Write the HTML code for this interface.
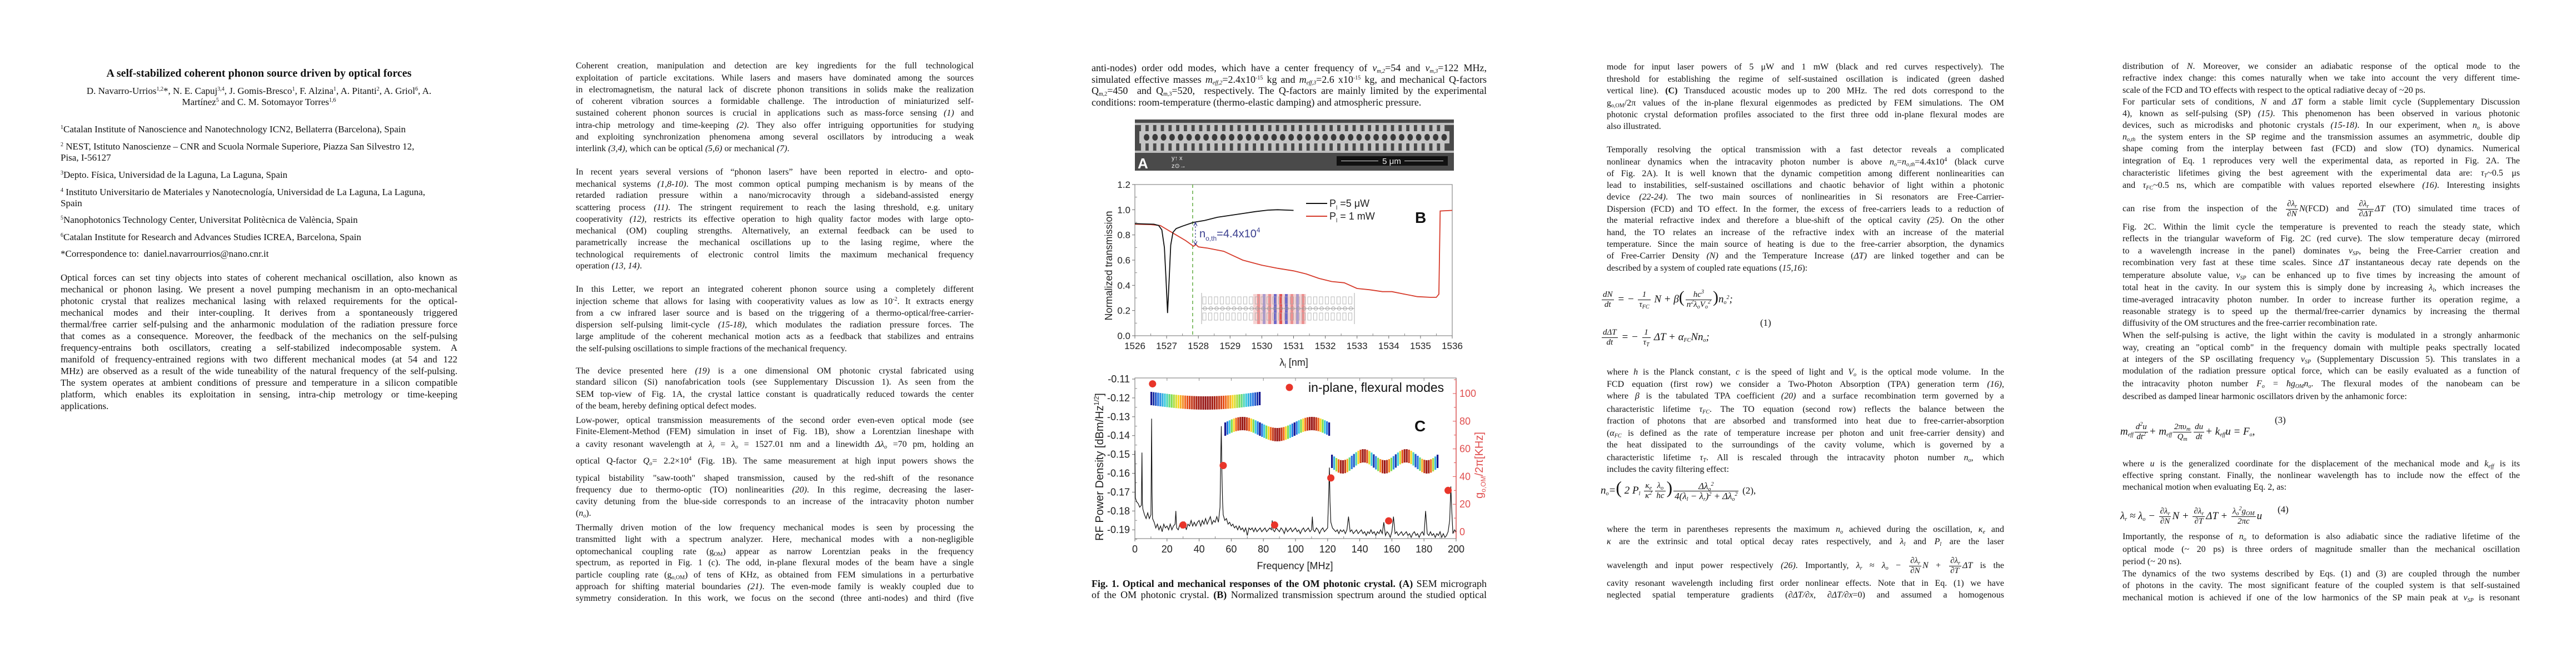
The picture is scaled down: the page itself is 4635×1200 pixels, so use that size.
<!DOCTYPE html>
<html><head><meta charset="utf-8">
<style>
html,body{margin:0;padding:0;background:#fff;}
body{width:4635px;height:1200px;position:relative;overflow:hidden;font-family:"Liberation Serif",serif;color:#111;}
.col{position:absolute;left:0;top:0;}
.l{position:absolute;white-space:nowrap;font-size:16px;line-height:20px;height:20px;}
.j{text-align:justify;text-align-last:justify;}
.c1{left:109px;width:714px;font-size:17px;}
.c2{left:1036px;width:716px;}
.c3{left:1964px;width:711px;font-size:18px;}
.c4{left:2891px;width:715px;}
.c5{left:3819px;width:715px;}
sup{font-size:10px;line-height:0;vertical-align:6px;}
sub{font-size:10px;line-height:0;vertical-align:-3px;}
i{font-style:italic;}
.fr{display:inline-block;vertical-align:middle;text-align:center;line-height:17px;font-size:15px;margin:0 2px;}
.fr>span{display:block;padding:0 2px;}
.fr>span:first-child{border-bottom:1px solid #111;}
.eq{position:absolute;white-space:nowrap;font-size:19px;font-style:italic;line-height:22px;}
svg text{font-family:"Liberation Sans",sans-serif;}
</style></head>
<body>

<!-- COLUMN 1 -->
<div class="col">
<div class="l c1" style="top:120px;text-align:center;font-weight:bold;font-size:20px;height:24px;line-height:24px;">A self-stabilized coherent phonon source driven by optical forces</div>
<div class="l c1" style="top:154px;text-align:center;">D. Navarro-Urrios<sup>1,2</sup>*, N. E. Capuj<sup>3,4</sup>, J. Gomis-Bresco<sup>1</sup>, F. Alzina<sup>1</sup>, A. Pitanti<sup>2</sup>, A. Griol<sup>6</sup>, A.</div>
<div class="l c1" style="top:174px;text-align:center;">Martínez<sup>5</sup> and C. M. Sotomayor Torres<sup>1,6</sup></div>
<div class="l c1" style="top:223px;"><sup>1</sup>Catalan Institute of Nanoscience and Nanotechnology ICN2, Bellaterra (Barcelona), Spain</div>
<div class="l c1" style="top:254px;"><sup>2</sup> NEST, Istituto Nanoscienze – CNR and Scuola Normale Superiore, Piazza San Silvestro 12,</div>
<div class="l c1" style="top:274px;">Pisa, I-56127</div>
<div class="l c1" style="top:305px;"><sup>3</sup>Depto. Física, Universidad de la Laguna, La Laguna, Spain</div>
<div class="l c1" style="top:336px;"><sup>4</sup> Instituto Universitario de Materiales y Nanotecnología, Universidad de La Laguna, La Laguna,</div>
<div class="l c1" style="top:356px;">Spain</div>
<div class="l c1" style="top:386px;"><sup>5</sup>Nanophotonics Technology Center, Universitat Politècnica de València, Spain</div>
<div class="l c1" style="top:417px;"><sup>6</sup>Catalan Institute for Research and Advances Studies ICREA, Barcelona, Spain</div>
<div class="l c1" style="top:447px;">*Correspondence to:&nbsp; daniel.navarrourrios@nano.cnr.it</div>
<div class="l c1 j" style="top:490px;">Optical forces can set tiny objects into states of coherent mechanical oscillation, also known as</div>
<div class="l c1 j" style="top:511px;">mechanical or phonon lasing. We present a novel pumping mechanism in an opto-mechanical</div>
<div class="l c1 j" style="top:532px;">photonic crystal that realizes mechanical lasing with relaxed requirements for the optical-</div>
<div class="l c1 j" style="top:553px;">mechanical modes and their inter-coupling. It derives from a spontaneously triggered</div>
<div class="l c1 j" style="top:574px;">thermal/free carrier self-pulsing and the anharmonic modulation of the radiation pressure force</div>
<div class="l c1 j" style="top:595px;">that comes as a consequence. Moreover, the feedback of the mechanics on the self-pulsing</div>
<div class="l c1 j" style="top:616px;">frequency-entrains both oscillators, creating a self-stabilized indecomposable system. A</div>
<div class="l c1 j" style="top:637px;">manifold of frequency-entrained regions with two different mechanical modes (at 54 and 122</div>
<div class="l c1 j" style="top:658px;">MHz) are observed as a result of the wide tuneability of the natural frequency of the self-pulsing.</div>
<div class="l c1 j" style="top:679px;">The system operates at ambient conditions of pressure and temperature in a silicon compatible</div>
<div class="l c1 j" style="top:700px;">platform, which enables its exploitation in sensing, intra-chip metrology or time-keeping</div>
<div class="l c1" style="top:721px;">applications.</div>
</div>

<!-- COLUMN 2 -->
<div class="col">
<div class="l c2 j" style="top:109px;">Coherent creation, manipulation and detection are key ingredients for the full technological</div>
<div class="l c2 j" style="top:131px;">exploitation of particle excitations. While lasers and masers have dominated among the sources</div>
<div class="l c2 j" style="top:152px;">in electromagnetism, the natural lack of discrete phonon transitions in solids make the realization</div>
<div class="l c2 j" style="top:173px;">of coherent vibration sources a formidable challenge. The introduction of miniaturized self-</div>
<div class="l c2 j" style="top:194px;">sustained coherent phonon sources is crucial in applications such as mass-force sensing <i>(1)</i> and</div>
<div class="l c2 j" style="top:216px;">intra-chip metrology and time-keeping <i>(2)</i>. They also offer intriguing opportunities for studying</div>
<div class="l c2 j" style="top:237px;">and exploiting synchronization phenomena among several oscillators by introducing a weak</div>
<div class="l c2" style="top:258px;">interlink <i>(3,4)</i>, which can be optical <i>(5,6)</i> or mechanical <i>(7)</i>.</div>
<div class="l c2 j" style="top:300px;">In recent years several versions of “phonon lasers” have been reported in electro- and opto-</div>
<div class="l c2 j" style="top:322px;">mechanical systems <i>(1,8-10)</i>. The most common optical pumping mechanism is by means of the</div>
<div class="l c2 j" style="top:342px;">retarded radiation pressure within a nano/microcavity through a sideband-assisted energy</div>
<div class="l c2 j" style="top:364px;">scattering process <i>(11)</i>. The stringent requirement to reach the lasing threshold, e.g. unitary</div>
<div class="l c2 j" style="top:385px;">cooperativity <i>(12)</i>, restricts its effective operation to high quality factor modes with large opto-</div>
<div class="l c2 j" style="top:406px;">mechanical (OM) coupling strengths. Alternatively, an external feedback can be used to</div>
<div class="l c2 j" style="top:427px;">parametrically increase the mechanical oscillations up to the lasing regime, where the</div>
<div class="l c2 j" style="top:449px;">technological requirements of electronic control limits the maximum mechanical frequency</div>
<div class="l c2" style="top:469px;">operation <i>(13, 14)</i>.</div>
<div class="l c2 j" style="top:511px;">In this Letter, we report an integrated coherent phonon source using a completely different</div>
<div class="l c2 j" style="top:533px;">injection scheme that allows for lasing with cooperativity values as low as 10<sup>-2</sup>. It extracts energy</div>
<div class="l c2 j" style="top:554px;">from a cw infrared laser source and is based on the triggering of a thermo-optical/free-carrier-</div>
<div class="l c2 j" style="top:575px;">dispersion self-pulsing limit-cycle <i>(15-18)</i>, which modulates the radiation pressure forces. The</div>
<div class="l c2 j" style="top:596px;">large amplitude of the coherent mechanical motion acts as a feedback that stabilizes and entrains</div>
<div class="l c2" style="top:618px;">the self-pulsing oscillations to simple fractions of the mechanical frequency.</div>
<div class="l c2 j" style="top:658px;">The device presented here <i>(19)</i> is a one dimensional OM photonic crystal fabricated using</div>
<div class="l c2 j" style="top:678px;">standard silicon (Si) nanofabrication tools (see Supplementary Discussion 1). As seen from the</div>
<div class="l c2 j" style="top:700px;">SEM top-view of Fig. 1A, the crystal lattice constant is quadratically reduced towards the center</div>
<div class="l c2" style="top:721px;">of the beam, hereby defining optical defect modes.</div>
<div class="l c2 j" style="top:747px;">Low-power, optical transmission measurements of the second order even-even optical mode (see</div>
<div class="l c2 j" style="top:767px;">Finite-Element-Method (FEM) simulation in inset of Fig. 1B), show a Lorentzian lineshape with</div>
<div class="l c2 j" style="top:790px;">a cavity resonant wavelength at <i>λ<sub>r</sub></i> = <i>λ<sub>o</sub></i> = 1527.01 nm and a linewidth <i>Δλ<sub>o</sub></i> =70 pm, holding an</div>
<div class="l c2 j" style="top:820px;">optical Q-factor <i>Q<sub>o</sub></i>= 2.2×10<sup>4</sup> (Fig. 1B). The same measurement at high input powers shows the</div>
<div class="l c2 j" style="top:851px;">typical bistability "saw-tooth" shaped transmission, caused by the red-shift of the resonance</div>
<div class="l c2 j" style="top:872px;">frequency due to thermo-optic (TO) nonlinearities <i>(20)</i>. In this regime, decreasing the laser-</div>
<div class="l c2 j" style="top:893px;">cavity detuning from the blue-side corresponds to an increase of the intracavity photon number</div>
<div class="l c2" style="top:914px;">(<i>n<sub>o</sub></i>).</div>
<div class="l c2 j" style="top:940px;">Thermally driven motion of the low frequency mechanical modes is seen by processing the</div>
<div class="l c2 j" style="top:961px;">transmitted light with a spectrum analyzer. Here, mechanical modes with a non-negligible</div>
<div class="l c2 j" style="top:983px;">optomechanical coupling rate (g<sub>OM</sub>) appear as narrow Lorentzian peaks in the frequency</div>
<div class="l c2 j" style="top:1003px;">spectrum, as reported in Fig. 1 (c). The odd, in-plane flexural modes of the beam have a single</div>
<div class="l c2 j" style="top:1025px;">particle coupling rate (g<sub>o,OM</sub>) of tens of KHz, as obtained from FEM simulations in a perturbative</div>
<div class="l c2 j" style="top:1046px;">approach for shifting material boundaries <i>(21)</i>. The even-mode family is weakly coupled due to</div>
<div class="l c2 j" style="top:1067px;">symmetry consideration. In this work, we focus on the second (three anti-nodes) and third (five</div>
</div>

<!-- COLUMN 3 (figure column) -->
<div class="col">
<div class="l c3 j" style="top:112px;">anti-nodes) order odd modes, which have a center frequency of <i>ν<sub>m,2</sub></i>=54 and <i>ν<sub>m,3</sub></i>=122 MHz,</div>
<div class="l c3 j" style="top:133px;">simulated effective masses <i>m<sub>eff,2</sub></i>=2.4x10<sup>-15</sup> kg and <i>m<sub>eff,3</sub></i>=2.6 x10<sup>-15</sup> kg, and mechanical Q-factors</div>
<div class="l c3 j" style="top:153px;">Q<sub>m,2</sub>=450&nbsp; and Q<sub>m,3</sub>=520,&nbsp; respectively. The Q-factors are mainly limited by the experimental</div>
<div class="l c3" style="top:174px;">conditions: room-temperature (thermo-elastic damping) and atmospheric pressure.</div>
<div class="l c3 j" style="top:1040px;"><b>Fig. 1. Optical and mechanical responses of the OM photonic crystal. (A)</b> SEM micrograph</div>
<div class="l c3 j" style="top:1060px;">of the OM photonic crystal. <b>(B)</b> Normalized transmission spectrum around the studied optical</div>
</div>

<!-- COLUMN 4 -->
<div class="col">
<div class="l c4 j" style="top:111px;">mode for input laser powers of 5 μW and 1 mW (black and red curves respectively). The</div>
<div class="l c4 j" style="top:133px;">threshold for establishing the regime of self-sustained oscillation is indicated (green dashed</div>
<div class="l c4 j" style="top:154px;">vertical line). <b>(C)</b> Transduced acoustic modes up to 200 MHz. The red dots correspond to the</div>
<div class="l c4 j" style="top:176px;">g<sub>o,OM</sub>/2π values of the in-plane flexural eigenmodes as predicted by FEM simulations. The OM</div>
<div class="l c4 j" style="top:197px;">photonic crystal deformation profiles associated to the first three odd in-plane flexural modes are</div>
<div class="l c4" style="top:218px;">also illustrated.</div>
<div class="l c4 j" style="top:260px;">Temporally resolving the optical transmission with a fast detector reveals a complicated</div>
<div class="l c4 j" style="top:282px;">nonlinear dynamics when the intracavity photon number is above <i>n<sub>o</sub></i>=<i>n<sub>o,th</sub></i>=4.4x10<sup>4</sup> (black curve</div>
<div class="l c4 j" style="top:303px;">of Fig. 2A). It is well known that the dynamic competition among different nonlinearities can</div>
<div class="l c4 j" style="top:324px;">lead to instabilities, self-sustained oscillations and chaotic behavior of light within a photonic</div>
<div class="l c4 j" style="top:345px;">device <i>(22-24)</i>. The two main sources of nonlinearities in Si resonators are Free-Carrier-</div>
<div class="l c4 j" style="top:367px;">Dispersion (FCD) and TO effect. In the former, the excess of free-carriers leads to a reduction of</div>
<div class="l c4 j" style="top:387px;">the material refractive index and therefore a blue-shift of the optical cavity <i>(25)</i>. On the other</div>
<div class="l c4 j" style="top:409px;">hand, the TO relates an increase of the refractive index with an increase of the material</div>
<div class="l c4 j" style="top:430px;">temperature. Since the main source of heating is due to the free-carrier absorption, the dynamics</div>
<div class="l c4 j" style="top:451px;">of Free-Carrier Density <i>(N)</i> and the Temperature Increase (<i>ΔT)</i> are linked together and can be</div>
<div class="l c4" style="top:473px;">described by a system of coupled rate equations (<i>15,16</i>):</div>

<div class="eq" style="left:2880px;top:522px;"><span class="fr"><span>dN</span><span>dt</span></span> = − <span class="fr"><span>1</span><span>τ<sub>FC</sub></span></span> N + β<span style="font-size:30px;font-style:normal;">(</span><span class="fr"><span>hc<sup>3</sup></span><span>n<sup>2</sup>λ<sub>o</sub>V<sub>o</sub><sup>2</sup></span></span><span style="font-size:30px;font-style:normal;">)</span>n<sub>o</sub><sup>2</sup>;</div>
<div class="eq" style="left:2880px;top:590px;"><span class="fr"><span>dΔT</span><span>dt</span></span> = − <span class="fr"><span>1</span><span>τ<sub>T</sub></span></span> ΔT + α<sub>FC</sub>Nn<sub>o</sub>;</div>
<div class="eq" style="left:3167px;top:570px;font-style:normal;font-size:17px;">(1)</div>

<div class="l c4 j" style="top:660px;">where <i>h</i> is the Planck constant, <i>c</i> is the speed of light and <i>V<sub>o</sub></i> is the optical mode volume.&nbsp; In the</div>
<div class="l c4 j" style="top:682px;">FCD equation (first row) we consider a Two-Photon Absorption (TPA) generation term <i>(16)</i>,</div>
<div class="l c4 j" style="top:703px;">where <i>β</i> is the tabulated TPA coefficient <i>(20)</i> and a surface recombination term governed by a</div>
<div class="l c4 j" style="top:727px;">characteristic lifetime <i>τ<sub>FC</sub></i>. The TO equation (second row) reflects the balance between the</div>
<div class="l c4 j" style="top:748px;">fraction of photons that are absorbed and transformed into heat due to free-carrier-absorption</div>
<div class="l c4 j" style="top:770px;">(<i>α<sub>FC</sub></i> is defined as the rate of temperature increase per photon and unit free-carrier density) and</div>
<div class="l c4 j" style="top:791px;">the heat dissipated to the surroundings of the cavity volume, which is governed by a</div>
<div class="l c4 j" style="top:814px;">characteristic lifetime <i>τ<sub>T</sub></i>. All is rescaled through the intracavity photon number <i>n<sub>o</sub></i>, which</div>
<div class="l c4" style="top:835px;">includes the cavity filtering effect:</div>

<div class="eq" style="left:2880px;top:866px;">n<sub>o</sub>=<span style="font-size:32px;font-style:normal;">(</span> 2 P<sub>l</sub> <span class="fr"><span>κ<sub>e</sub></span><span>κ<sup>2</sup></span></span><span class="fr"><span>λ<sub>o</sub></span><span>hc</span></span><span style="font-size:32px;font-style:normal;">)</span><span class="fr" style="font-size:17px;"><span>Δλ<sub>o</sub><sup>2</sup></span><span>4(λ<sub>l</sub> − λ<sub>r</sub>)<sup>2</sup> + Δλ<sub>o</sub><sup>2</sup></span></span> <span style="font-style:normal;font-size:17px;">(2),</span></div>

<div class="l c4 j" style="top:943px;">where the term in parentheses represents the maximum <i>n<sub>o</sub></i> achieved during the oscillation, <i>κ<sub>e</sub></i> and</div>
<div class="l c4 j" style="top:965px;"><i>κ</i> are the extrinsic and total optical decay rates respectively, and <i>λ<sub>l</sub></i> and <i>P<sub>l</sub></i> are the laser</div>
<div class="l c4 j" style="top:1001px;">wavelength and input power respectively <i>(26)</i>. Importantly, <i>λ<sub>r</sub></i> ≈ <i>λ<sub>o</sub></i> − <span class="fr"><span><i>∂λ<sub>r</sub></i></span><span><i>∂N</i></span></span><i>N</i> + <span class="fr"><span><i>∂λ<sub>r</sub></i></span><span><i>∂T</i></span></span><i>ΔT</i> is the</div>
<div class="l c4 j" style="top:1040px;">cavity resonant wavelength including first order nonlinear effects. Note that in Eq. (1) we have</div>
<div class="l c4 j" style="top:1061px;">neglected spatial temperature gradients (<i>∂ΔT/∂x</i>, <i>∂ΔT/∂x</i>=0) and assumed a homogenous</div>
</div>

<!-- COLUMN 5 -->
<div class="col">
<div class="l c5 j" style="top:110px;">distribution of <i>N</i>. Moreover, we consider an adiabatic response of the optical mode to the</div>
<div class="l c5 j" style="top:131px;">refractive index change: this comes naturally when we take into account the very different time-</div>
<div class="l c5" style="top:153px;">scale of the FCD and TO effects with respect to the optical radiative decay of ~20 ps.</div>
<div class="l c5 j" style="top:174px;">For particular sets of conditions, <i>N</i> and <i>ΔT</i> form a stable limit cycle (Supplementary Discussion</div>
<div class="l c5 j" style="top:195px;">4), known as self-pulsing (SP) <i>(15)</i>. This phenomenon has been observed in various photonic</div>
<div class="l c5 j" style="top:216px;">devices, such as microdisks and photonic crystals <i>(15-18)</i>. In our experiment, when <i>n<sub>o</sub></i> is above</div>
<div class="l c5 j" style="top:237px;"><i>n<sub>o,th</sub></i> the system enters in the SP regime and the transmission assumes an asymmetric, double dip</div>
<div class="l c5 j" style="top:258px;">shape coming from the interplay between fast (FCD) and slow (TO) dynamics. Numerical</div>
<div class="l c5 j" style="top:280px;">integration of Eq. 1 reproduces very well the experimental data, as reported in Fig. 2A. The</div>
<div class="l c5 j" style="top:302px;">characteristic lifetimes giving the best agreement with the experimental data are: <i>τ<sub>T</sub></i>~0.5 μs</div>
<div class="l c5 j" style="top:324px;">and <i>τ<sub>FC</sub></i>~0.5 ns, which are compatible with values reported elsewhere <i>(16)</i>. Interesting insights</div>
<div class="l c5 j" style="top:359px;">can rise from the inspection of the <span class="fr"><span><i>∂λ<sub>r</sub></i></span><span><i>∂N</i></span></span><i>N</i>(FCD) and <span class="fr"><span><i>∂λ<sub>r</sub></i></span><span><i>∂ΔT</i></span></span><i>ΔT</i> (TO) simulated time traces of</div>
<div class="l c5 j" style="top:399px;">Fig. 2C. Within the limit cycle the temperature is prevented to reach the steady state, which</div>
<div class="l c5 j" style="top:420px;">reflects in the triangular waveform of Fig. 2C (red curve). The slow temperature decay (mirrored</div>
<div class="l c5 j" style="top:442px;">to a wavelength increase in the panel) dominates <i>ν<sub>SP</sub></i>, being the Free-Carrier creation and</div>
<div class="l c5 j" style="top:463px;">recombination very fast at these time scales. Since <i>ΔT</i> instantaneous decay rate depends on the</div>
<div class="l c5 j" style="top:486px;">temperature absolute value, <i>ν<sub>SP</sub></i> can be enhanced up to five times by increasing the amount of</div>
<div class="l c5 j" style="top:508px;">total heat in the cavity. In our system this is simply done by increasing <i>λ<sub>l</sub></i>, which increases the</div>
<div class="l c5 j" style="top:530px;">time-averaged intracavity photon number. In order to increase further its operation regime, a</div>
<div class="l c5 j" style="top:551px;">reasonable strategy is to speed up the thermal/free-carrier dynamics by increasing the thermal</div>
<div class="l c5" style="top:572px;">diffusivity of the OM structures and the free-carrier recombination rate.</div>
<div class="l c5 j" style="top:594px;">When the self-pulsing is active, the light within the cavity is modulated in a strongly anharmonic</div>
<div class="l c5 j" style="top:616px;">way, creating an "optical comb" in the frequency domain with multiple peaks spectrally located</div>
<div class="l c5 j" style="top:637px;">at integers of the SP oscillating frequency <i>ν<sub>SP</sub></i> (Supplementary Discussion 5). This translates in a</div>
<div class="l c5 j" style="top:658px;">modulation of the radiation pressure optical force, which can be easily evaluated as a function of</div>
<div class="l c5 j" style="top:681px;">the intracavity photon number <i>F<sub>o</sub></i> = <i>ħg<sub>OM</sub>n<sub>o</sub></i>. The flexural modes of the nanobeam can be</div>
<div class="l c5" style="top:704px;">described as damped linear harmonic oscillators driven by the anhamonic force:</div>

<div class="eq" style="left:3815px;top:760px;">m<sub>eff</sub><span class="fr"><span>d<sup>2</sup>u</span><span>dt<sup>2</sup></span></span>+ m<sub>eff</sub><span class="fr"><span>2πυ<sub>m</sub></span><span>Q<sub>m</sub></span></span><span class="fr"><span>du</span><span>dt</span></span>+ k<sub>eff</sub>u = F<sub>o</sub>,</div>
<div class="eq" style="left:4093px;top:745px;font-style:normal;font-size:17px;">(3)</div>

<div class="l c5 j" style="top:825px;">where <i>u</i> is the generalized coordinate for the displacement of the mechanical mode and <i>k<sub>eff</sub></i> is its</div>
<div class="l c5 j" style="top:846px;">effective spring constant. Finally, the nonlinear wavelength has to include now the effect of the</div>
<div class="l c5" style="top:867px;">mechanical motion when evaluating Eq. 2, as:</div>

<div class="eq" style="left:3815px;top:912px;">λ<sub>r</sub> ≈ λ<sub>o</sub> − <span class="fr"><span>∂λ<sub>r</sub></span><span>∂N</span></span>N + <span class="fr"><span>∂λ<sub>r</sub></span><span>∂T</span></span>ΔT + <span class="fr"><span>λ<sub>o</sub><sup>2</sup>g<sub>OM</sub></span><span>2πc</span></span>u</div>
<div class="eq" style="left:4098px;top:906px;font-style:normal;font-size:17px;">(4)</div>

<div class="l c5 j" style="top:956px;">Importantly, the response of <i>n<sub>o</sub></i> to deformation is also adiabatic since the radiative lifetime of the</div>
<div class="l c5 j" style="top:979px;">optical mode (~ 20 ps) is three orders of magnitude smaller than the mechanical oscillation</div>
<div class="l c5" style="top:1001px;">period (~ 20 ns).</div>
<div class="l c5 j" style="top:1023px;">The dynamics of the two systems described by Eqs. (1) and (3) are coupled through the number</div>
<div class="l c5 j" style="top:1044px;">of photons in the cavity. The most significant feature of the coupled system is that self-sustained</div>
<div class="l c5 j" style="top:1066px;">mechanical motion is achieved if one of the low harmonics of the SP main peak at <i>ν<sub>SP</sub></i> is resonant</div>
</div>

<!-- FIGURE -->
<svg id="fig" style="position:absolute;left:1950px;top:200px;" width="780" height="840" viewBox="1950 200 780 840" xmlns="http://www.w3.org/2000/svg">
  <g id="semPanel"></g>
  <g id="plotB"></g>
  <g id="plotC"></g>
</svg>

<script>
// ---------- Panel B data ----------
const bTickLambda = [1526,1527,1528,1529,1530,1531,1532,1533,1534,1535,1536];
const bTickVal = [0.0,0.2,0.4,0.6,0.8,1.0,1.2];
const bTickValLabels = ["0.0","0.2","0.4","0.6","0.8","1.0","1.2"];
const blackLambda = [1526,1526.3,1526.6,1526.75,1526.85,1526.93,1526.98,1527.03,1527.08,1527.13,1527.2,1527.3,1527.5,1527.85,1528.2,1528.6,1529,1529.4,1529.8,1530.2,1530.5,1530.8,1531];
const blackVal = [0.89,0.887,0.885,0.875,0.84,0.7,0.45,0.18,0.45,0.72,0.82,0.85,0.87,0.9,0.915,0.94,0.955,0.97,0.985,0.997,1.0,0.997,0.995];
const redLambda = [1526,1526.5,1526.8,1527,1527.3,1527.6,1527.85,1527.92,1528,1528.3,1528.8,1529.1,1529.4,1530,1530.5,1531,1531.4,1531.8,1532.2,1532.6,1533,1533.4,1533.8,1534.1,1534.5,1534.9,1535.3,1535.5,1535.58,1535.62,1536];
const redVal = [0.885,0.882,0.875,0.845,0.8,0.755,0.71,0.725,0.705,0.695,0.67,0.635,0.6,0.56,0.535,0.515,0.49,0.455,0.43,0.42,0.375,0.365,0.35,0.35,0.33,0.31,0.305,0.305,0.33,0.99,0.995];
const thresholdLambda = [1527.82];

// ---------- Panel C data ----------
const cTickFreq = [0,20,40,60,80,100,120,140,160,180,200];
const cTickVal = [-0.11,-0.12,-0.13,-0.14,-0.15,-0.16,-0.17,-0.18,-0.19];
const cTickValLabels = ["-0.11","-0.12","-0.13","-0.14","-0.15","-0.16","-0.17","-0.18","-0.19"];
const gTick = [0,20,40,60,80,100];
const specFreq = [0,0.3,1,2,3,4,4.4,4.7,5,6,7,8,9,10,10.4,10.7,11,12,13,14,15,16,17,18,19,20,21,22,23,24,25,25.5,26,27,28,29,30,31,32,33,34,35,36,37,38,39,40,41,42,43,44,45,46,47,48,49,50,51,52,53,53.5,53.8,54.2,54.6,55,56,57,58,59,60,61,62,63,64,65,66,67,68,69,70,71,72,73,74,75,76,77,78,79,80,81,82,83,84,85,85.5,86,87,88,89,90,91,92,93,94,95,96,97,98,99,100,101,102,103,104,105,106,107,108,109,110,110.5,111,112,113,114,115,116,117,118,119,120,120.7,121.1,121.5,122,123,124,125,126,127,128,129,130,131,132,133,134,135,136,137,138,139,140,141,142,143,144,145,146,147,148,149,150,151,152,153,154,155,156,157,158,159,160,161,162,163,164,165,166,167,168,169,170,171,172,173,174,175,176,177,178,179,180,181,182,183,184,185,186,187,188,189,190,191,192,193,194,195,196,196.7,197.2,198,199,200];
const specVal = [-0.148,-0.173,-0.175,-0.176,-0.178,-0.177,-0.149,-0.176,-0.179,-0.182,-0.184,-0.181,-0.184,-0.182,-0.131,-0.170,-0.184,-0.186,-0.189,-0.187,-0.190,-0.188,-0.191,-0.187,-0.189,-0.188,-0.190,-0.187,-0.190,-0.188,-0.187,-0.180,-0.189,-0.190,-0.187,-0.189,-0.188,-0.186,-0.190,-0.187,-0.188,-0.185,-0.188,-0.186,-0.188,-0.186,-0.185,-0.188,-0.185,-0.187,-0.184,-0.187,-0.185,-0.183,-0.187,-0.185,-0.186,-0.183,-0.186,-0.178,-0.150,-0.135,-0.160,-0.175,-0.182,-0.185,-0.184,-0.187,-0.186,-0.188,-0.187,-0.189,-0.188,-0.190,-0.188,-0.190,-0.189,-0.191,-0.189,-0.193,-0.189,-0.190,-0.189,-0.191,-0.189,-0.191,-0.190,-0.189,-0.191,-0.190,-0.189,-0.191,-0.190,-0.189,-0.190,-0.185,-0.190,-0.191,-0.189,-0.190,-0.191,-0.189,-0.190,-0.192,-0.189,-0.191,-0.190,-0.189,-0.191,-0.190,-0.189,-0.191,-0.190,-0.192,-0.190,-0.189,-0.191,-0.190,-0.189,-0.191,-0.190,-0.183,-0.190,-0.191,-0.189,-0.190,-0.192,-0.190,-0.189,-0.191,-0.190,-0.189,-0.170,-0.157,-0.175,-0.186,-0.189,-0.190,-0.191,-0.190,-0.192,-0.190,-0.191,-0.190,-0.192,-0.190,-0.183,-0.191,-0.190,-0.192,-0.191,-0.190,-0.192,-0.191,-0.190,-0.192,-0.191,-0.193,-0.191,-0.192,-0.190,-0.192,-0.191,-0.193,-0.191,-0.192,-0.190,-0.192,-0.186,-0.193,-0.191,-0.192,-0.194,-0.191,-0.183,-0.192,-0.191,-0.193,-0.192,-0.191,-0.193,-0.192,-0.191,-0.193,-0.192,-0.194,-0.192,-0.191,-0.193,-0.192,-0.194,-0.192,-0.191,-0.193,-0.180,-0.192,-0.193,-0.191,-0.193,-0.192,-0.194,-0.192,-0.193,-0.191,-0.194,-0.192,-0.194,-0.193,-0.191,-0.185,-0.167,-0.178,-0.192,-0.190,-0.191];
const dotFreq = [11,30,55,87,122,158,195];
const dotG = [107,5,48,5,39,8,30];

const NS = "http://www.w3.org/2000/svg";
function mk(tag, attrs, parent){
  const el = document.createElementNS(NS, tag);
  for (const k in attrs) el.setAttribute(k, attrs[k]);
  parent.appendChild(el);
  return el;
}

// ----- axis functions -----
const xB = l => 2042 + (l - 1526) * 57.1;
const yB = v => 604 - v * 226.67;
const xC = f => 2042 + f * 2.89;
const yC = v => 682 + (-0.11 - v) * 3390;
const yG = g => 957 - g * 2.49;

// ---------- SEM panel (decorative image) ----------
const sem = document.getElementById('semPanel');
let e = mk('rect', {x:2042,y:215,width:574,height:92,fill:'#4a4a4a'}, sem);


e = mk('rect', {x:2042,y:221,width:574,height:4,fill:'#bdbdbd'}, sem);


e = mk('rect', {x:2042,y:271,width:574,height:4,fill:'#bdbdbd'}, sem);


e = mk('rect', {x:2050,y:236,width:558,height:22,fill:'#c4c4c4'}, sem);


for (let i = 0; i < 40; i++) {
  const tx = 2053 + i * 13.8;
  const t1 = mk('rect', {x:tx,y:224,width:8,height:14,fill:'#c4c4c4',rx:2}, sem);
  
  
  const t2 = mk('rect', {x:tx,y:256,width:8,height:16,fill:'#c4c4c4',rx:2}, sem);
  
  
}
for (let i = 0; i < 36; i++) {
  const h = mk('ellipse', {cx:2063 + i * 15.3, cy:247, rx:5, ry:6, fill:'#3a3a3a'}, sem);
  
  
}
e = mk('rect', {x:2405,y:281,width:200,height:17,fill:'#111'}, sem);


e = mk('line', {x1:2413,y1:289.5,x2:2480,y2:289.5,stroke:'#ddd','stroke-width':1}, sem);


e = mk('line', {x1:2527,y1:289.5,x2:2597,y2:289.5,stroke:'#ddd','stroke-width':1}, sem);


e = mk('text', {x:2504,y:295,fill:'#eee','font-size':15,'text-anchor':'middle'}, sem);
e.textContent = '5 μm';


e = mk('text', {x:2047,y:303,fill:'#fff','font-size':26,'font-weight':'bold'}, sem);
e.textContent = 'A';


e = mk('text', {x:2108,y:288,fill:'#eee','font-size':11}, sem);
e.textContent = 'y↑  x';


e = mk('text', {x:2108,y:302,fill:'#eee','font-size':11}, sem);
e.textContent = 'z⊙→';



// ---------- Panel B ----------
const pB = document.getElementById('plotB');
e = mk('rect', {x:2042,y:332,width:571,height:272,fill:'none',stroke:'#888','stroke-width':1.2}, pB);


bTickLambda.forEach(l => {
  const t = mk('line', {x1:xB(l),y1:604,x2:xB(l),y2:609,stroke:'#666'}, pB);
  
  
  const tl = mk('text', {x:xB(l),y:628,'font-size':17,'text-anchor':'middle',fill:'#222'}, pB);
  tl.textContent = String(l);
  
  
  if (l < 1536) {
    const m = mk('line', {x1:xB(l+0.5),y1:604,x2:xB(l+0.5),y2:600,stroke:'#888'}, pB);
    
    
  }
});
bTickVal.forEach((v,i) => {
  const t = mk('line', {x1:2037,y1:yB(v),x2:2042,y2:yB(v),stroke:'#666'}, pB);
  
  
  const tl = mk('text', {x:2034,y:yB(v)+6,'font-size':17,'text-anchor':'end',fill:'#222'}, pB);
  tl.textContent = bTickValLabels[i];
  
  
  if (v < 1.2) {
    const m = mk('line', {x1:2042,y1:yB(v+0.1),x2:2046,y2:yB(v+0.1),stroke:'#888'}, pB);
    
    
  }
});
e = mk('text', {x:0,y:0,'font-size':18,'text-anchor':'middle',fill:'#222',transform:'translate(2001,478) rotate(-90)'}, pB);
e.textContent = 'Normalized transmission';


e = mk('text', {x:2328,y:658,'font-size':18,'text-anchor':'middle',fill:'#222'}, pB);
e.innerHTML = 'λ<tspan font-size="11" dy="4">l</tspan><tspan dy="-4"> [nm]</tspan>';



// FEM inset
const ins = mk('g', {}, pB);


e = mk('rect', {x:2255,y:529,width:95,height:54,fill:'#f2c8c8',opacity:0.8}, ins);


for (let i = 0; i < 9; i++) {
  const s = mk('rect', {x:2262 + i*10, y:529, width:5, height:54, fill: i%2 ? '#5555c8' : '#e04040', opacity: (i>2 && i<6) ? 0.85 : 0.45}, ins);
  
  
}
e = mk('line', {x1:2162,y1:555,x2:2437,y2:555,stroke:'#999','stroke-width':1}, ins);


for (let i = 0; i < 26; i++) {
  const c = mk('circle', {cx:2168+i*10.5, cy:555, r:3.2, fill:'none', stroke:'#999','stroke-width':0.8}, ins);
  
  
  const u = mk('rect', {x:2164+i*10.5, y:534, width:6, height:13, fill:'none', stroke:'#aaa','stroke-width':0.8}, ins);
  
  
  const d = mk('rect', {x:2164+i*10.5, y:563, width:6, height:13, fill:'none', stroke:'#aaa','stroke-width':0.8}, ins);
  
  
}
e = mk('line', {x1:2162,y1:527,x2:2162,y2:583,stroke:'#aaa'}, ins);


e = mk('line', {x1:2437,y1:527,x2:2437,y2:583,stroke:'#aaa'}, ins);



// threshold line
e = mk('line', {x1:xB(thresholdLambda[0]),y1:yB(1.2),x2:xB(thresholdLambda[0]),y2:yB(0),stroke:'#6ab04c','stroke-width':1.6,'stroke-dasharray':'6,5'}, pB);



function pathFrom(xs, ys, fx, fy){
  return xs.map((x,i) => (i ? 'L' : 'M') + fx(x).toFixed(1) + ',' + fy(ys[i]).toFixed(1)).join(' ');
}
e = mk('path', {d:pathFrom(redLambda, redVal, xB, yB), fill:'none', stroke:'#d63a2a','stroke-width':1.8}, pB);


e = mk('path', {d:pathFrom(blackLambda, blackVal, xB, yB), fill:'none', stroke:'#111','stroke-width':1.8}, pB);



// arrow
const ax = xB(thresholdLambda[0]) + 5;
e = mk('line', {x1:ax,y1:yB(0.895),x2:ax,y2:yB(0.725),stroke:'#3a3f8f','stroke-width':1.2,'stroke-dasharray':'3,3'}, pB);


e = mk('path', {d:`M${ax-3},${yB(0.87)} L${ax},${yB(0.9)} L${ax+3},${yB(0.87)} M${ax-3},${yB(0.75)} L${ax},${yB(0.72)} L${ax+3},${yB(0.75)}`, fill:'none', stroke:'#3a3f8f','stroke-width':1.2}, pB);


e = mk('text', {x:2158,y:427,'font-size':20,fill:'#3a3f8f'}, pB);
e.innerHTML = 'n<tspan font-size="12" dy="6">o,th</tspan><tspan dy="-6">=4.4x10</tspan><tspan font-size="12" dy="-9">4</tspan>';



// legend B
e = mk('line', {x1:2350,y1:366,x2:2388,y2:366,stroke:'#111','stroke-width':2}, pB);


e = mk('text', {x:2392,y:372,'font-size':18,fill:'#222'}, pB);
e.innerHTML = 'P<tspan font-size="10" dy="5">l</tspan><tspan dy="-5"> =5 μW</tspan>';


e = mk('line', {x1:2350,y1:389,x2:2388,y2:389,stroke:'#d63a2a','stroke-width':2}, pB);


e = mk('text', {x:2392,y:395,'font-size':18,fill:'#222'}, pB);
e.innerHTML = 'P<tspan font-size="10" dy="5">l</tspan><tspan dy="-5"> = 1 mW</tspan>';


e = mk('text', {x:2546,y:401,'font-size':28,'font-weight':'bold',fill:'#111'}, pB);
e.textContent = 'B';



// ---------- Panel C ----------
const pC = document.getElementById('plotC');
e = mk('rect', {x:2042,y:680,width:578,height:289,fill:'none',stroke:'#888','stroke-width':1.2}, pC);


e = mk('line', {x1:2620,y1:680,x2:2620,y2:969,stroke:'#e05050','stroke-width':1.4}, pC);


cTickFreq.forEach(f => {
  const t = mk('line', {x1:xC(f),y1:969,x2:xC(f),y2:974,stroke:'#666'}, pC);
  
  
  const tt = mk('line', {x1:xC(f),y1:680,x2:xC(f),y2:685,stroke:'#888'}, pC);
  
  
  const tl = mk('text', {x:xC(f),y:994,'font-size':18,'text-anchor':'middle',fill:'#222'}, pC);
  tl.textContent = String(f);
  
  
  if (f < 200) {
    const m = mk('line', {x1:xC(f+10),y1:969,x2:xC(f+10),y2:965,stroke:'#888'}, pC);
    
    
  }
});
cTickVal.forEach((v,i) => {
  const t = mk('line', {x1:2037,y1:yC(v),x2:2042,y2:yC(v),stroke:'#666'}, pC);
  
  
  const tl = mk('text', {x:2033,y:yC(v)+6,'font-size':18,'text-anchor':'end',fill:'#222'}, pC);
  tl.textContent = cTickValLabels[i];
  
  
  const m = mk('line', {x1:2042,y1:yC(v-0.005),x2:2046,y2:yC(v-0.005),stroke:'#888'}, pC);
  
  
});
gTick.forEach(g => {
  const t = mk('line', {x1:2614,y1:yG(g),x2:2620,y2:yG(g),stroke:'#e05050'}, pC);
  
  
  const tl = mk('text', {x:2626,y:yG(g)+6,'font-size':18,fill:'#e05050'}, pC);
  tl.textContent = String(g);
  
  
  const m = mk('line', {x1:2616,y1:yG(g+10),x2:2620,y2:yG(g+10),stroke:'#e05050'}, pC);
  
  
});
e = mk('text', {x:0,y:0,'font-size':20,'text-anchor':'middle',fill:'#222',transform:'translate(1985,840) rotate(-90)'}, pC);
e.innerHTML = 'RF Power Density [dBm/Hz<tspan font-size="12" dy="-8">1/2</tspan><tspan dy="8">]</tspan>';


e = mk('text', {x:0,y:0,'font-size':20,'text-anchor':'middle',fill:'#e05050',transform:'translate(2668,837) rotate(-90)'}, pC);
e.innerHTML = 'g<tspan font-size="12" dy="5">o,OM</tspan><tspan dy="-5">/2π[KHz]</tspan>';


e = mk('text', {x:2330,y:1024,'font-size':18,'text-anchor':'middle',fill:'#222'}, pC);
e.textContent = 'Frequency [MHz]';



// mode shape insets
function jet(t){
  const stops = [[0,[20,20,140]],[0.2,[40,120,230]],[0.4,[60,210,220]],[0.55,[120,220,80]],[0.7,[250,220,40]],[0.85,[240,90,30]],[1,[150,20,20]]];
  for (let i = 1; i < stops.length; i++) {
    if (t <= stops[i][0]) {
      const a = stops[i-1], b = stops[i], r = (t - a[0]) / (b[0] - a[0]);
      return 'rgb(' + a[1].map((c,k) => Math.round(c + (b[1][k]-c)*r)).join(',') + ')';
    }
  }
  return 'rgb(150,20,20)';
}
function beam(x0, x1, yc, amp, halfWaves, name){
  const g = mk('g', {}, pC);
  
  
  const n = 48;
  for (let i = 0; i <= n; i++) {
    const s = i / n;
    const u = Math.sin(Math.PI * halfWaves * s);
    const x = x0 + (x1 - x0) * s;
    const y = yc + amp * u;
    const r = mk('rect', {x:x-2, y:y-12, width:3.2, height:24, fill:jet(Math.abs(u))}, g);
    
    
  }
  const line = mk('line', {x1:x0, y1:yc, x2:x1, y2:yc, stroke:'#20207a','stroke-width':0}, g);
  
  
}
beam(2072, 2267, 717, 8, 1, 'mode-shape-first');
beam(2205, 2392, 772, -10, 3, 'mode-shape-second');
beam(2397, 2587, 830, 10, 5, 'mode-shape-third');

// spectrum
e = mk('path', {d:pathFrom(specFreq, specVal, xC, yC), fill:'none', stroke:'#111','stroke-width':1.2}, pC);



// red dots
dotFreq.forEach((f,i) => {
  const c = mk('circle', {cx:xC(f), cy:yG(dotG[i]), r:6.5, fill:'#e8352a'}, pC);
  
  
});
e = mk('circle', {cx:2320, cy:697, r:6.5, fill:'#e8352a'}, pC);


e = mk('text', {x:2354,y:705,'font-size':23,fill:'#111'}, pC);
e.textContent = 'in-plane, flexural modes';


e = mk('text', {x:2545,y:776,'font-size':28,'font-weight':'bold',fill:'#111'}, pC);
e.textContent = 'C';



// ---------- fit justified lines ----------
document.querySelectorAll('.l').forEach(el => {
  let fs = parseFloat(getComputedStyle(el).fontSize);
  let guard = 0;
  while (el.scrollWidth > el.clientWidth + 1 && guard < 40) {
    fs -= 0.25;
    el.style.fontSize = fs + 'px';
    guard++;
  }
});
</script>
</body></html>
